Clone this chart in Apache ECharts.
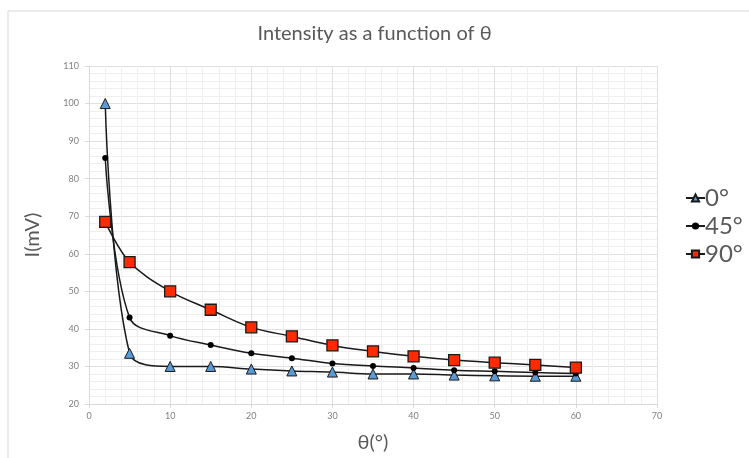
<!DOCTYPE html>
<html>
<head>
<meta charset="utf-8">
<script src="https://cdn.jsdelivr.net/npm/echarts@6/dist/echarts.min.js"></script>
<style>
  html, body { margin: 0; padding: 0; background: #fff; }
  #chart-container { width: 749px; height: 458px; }
</style>
</head>
<body>
<div id="chart-container"></div>
<script>
// angle theta in degrees
const theta = [2, 5, 10, 15, 20, 25, 30, 35, 40, 45, 50, 55, 60]
// intensity in mV
const deg0 = [100, 33.5, 30, 30, 29.3, 28.8, 28.5, 28, 28, 27.7, 27.5, 27.4, 27.4]
const deg45 = [85.5, 43, 38.2, 35.7, 33.5, 32.2, 30.8, 30.1, 29.6, 29.0, 28.7, 28.4, 28.1]
const deg90 = [68.5, 57.8, 50, 45.1, 40.4, 38, 35.6, 34, 32.7, 31.7, 31, 30.4, 29.7]

const pairs = vals => theta.map((t, i) => [t, vals[i]])

const font = 'Lato'
const grey = '#7f7f7f'

const dom = document.getElementById('chart-container')
const myChart = echarts.init(dom, null, { renderer: 'canvas' })

const options = {
  animation: false,
  textStyle: { fontFamily: font },
  title: {
    text: 'Intensity as a function of θ',
    left: 'center',
    top: 19,
    textStyle: { fontFamily: font, fontSize: 20, fontWeight: 'normal', color: '#595959' }
  },
  graphic: [{
    type: 'rect',
    shape: { x: 8, y: 11, width: 760, height: 470 },
    style: { fill: 'none', stroke: '#d9d9d9', lineWidth: 1 },
    silent: true
  }],
  grid: { left: 89, right: 92, top: 66, bottom: 51 },
  legend: {
    orient: 'vertical',
    left: 680,
    top: 181,
    itemGap: 4,
    itemWidth: 19,
    itemHeight: 9,
    textStyle: { fontFamily: font, fontSize: 24, color: '#595959', padding: [0, 0, 0, -5] },
    data: ['0°', '45°', '90°']
  },
  xAxis: {
    type: 'value',
    min: 0,
    max: 70,
    interval: 10,
    name: 'θ(°)',
    nameLocation: 'middle',
    nameGap: 29,
    nameTextStyle: { fontFamily: font, fontSize: 20, color: '#595959' },
    axisLine: { show: true, lineStyle: { color: '#d9d9d9' } },
    axisTick: { show: true, length: 4, lineStyle: { color: '#d9d9d9' } },
    axisLabel: { fontSize: 9, color: grey, margin: 8 },
    splitLine: { show: true, lineStyle: { color: '#e0e0e0' } },
    minorTick: { show: false, splitNumber: 5 },
    minorSplitLine: { show: true, lineStyle: { color: '#efefef' } }
  },
  yAxis: {
    type: 'value',
    min: 20,
    max: 110,
    interval: 10,
    name: 'I(mV)',
    nameLocation: 'middle',
    nameGap: 46,
    nameTextStyle: { fontFamily: font, fontSize: 20, color: '#595959' },
    axisLine: { show: true, lineStyle: { color: '#d9d9d9' } },
    axisTick: { show: true, length: 4, lineStyle: { color: '#d9d9d9' } },
    axisLabel: { fontSize: 9, color: grey, margin: 10 },
    splitLine: { show: true, lineStyle: { color: '#e0e0e0' } },
    minorTick: { show: false, splitNumber: 5 },
    minorSplitLine: { show: true, lineStyle: { color: '#efefef' } }
  },
  series: [
    {
      name: '0°',
      type: 'line',
      smooth: 0.35,
      symbol: 'triangle',
      symbolSize: 10,
      lineStyle: { color: '#1a1a1a', width: 1.5 },
      itemStyle: { color: '#5b9bd5', borderColor: '#1a1a1a', borderWidth: 1 },
      data: pairs(deg0)
    },
    {
      name: '45°',
      type: 'line',
      smooth: 0.35,
      symbol: 'circle',
      symbolSize: 6,
      lineStyle: { color: '#1a1a1a', width: 1.5 },
      itemStyle: { color: '#000', borderColor: '#000', borderWidth: 0 },
      data: pairs(deg45)
    },
    {
      name: '90°',
      type: 'line',
      smooth: 0.35,
      symbol: 'rect',
      symbolSize: 11,
      lineStyle: { color: '#1a1a1a', width: 1.5 },
      itemStyle: { color: '#ff2a00', borderColor: '#1a1a1a', borderWidth: 1.3 },
      data: pairs(deg90)
    }
  ]
}

myChart.setOption(options)
window.addEventListener('resize', myChart.resize)
</script>
</body>
</html>
